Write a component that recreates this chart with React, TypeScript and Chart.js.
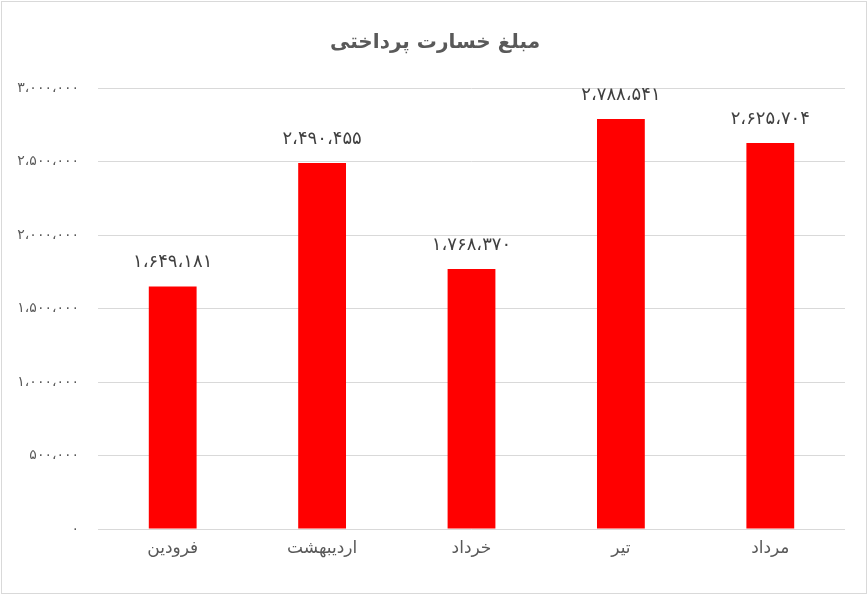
import React, { useEffect, useRef } from "react";
import { Chart, registerables } from "chart.js";

Chart.register(...registerables);

const title = "مبلغ خسارت پرداختی";
const categories = ["فرودین", "اردیبهشت", "خرداد", "تیر", "مرداد"];
const values = [1649181, 2490455, 1768370, 2788541, 2625704];
const yMin = 0;
const yMax = 3000000;
const yStep = 500000;

const faDigits = "۰۱۲۳۴۵۶۷۸۹";
function toFa(n: number): string {
  const s = Math.round(n).toString().replace(/\B(?=(\d{3})+(?!\d))/g, "،");
  return s.replace(/\d/g, (d) => faDigits[Number(d)]);
}

const FONT = "'DejaVu Sans', 'Noto Sans', sans-serif";

const decorPlugin = {
  id: "decor",
  beforeDraw(chart: any) {
    const ctx = chart.ctx;
    ctx.save();
    ctx.fillStyle = "#ffffff";
    ctx.fillRect(0, 0, chart.width, chart.height);
    ctx.strokeStyle = "#d9d9d9";
    ctx.lineWidth = 1;
    ctx.strokeRect(1.5, 1.5, chart.width - 3, chart.height - 3);
    ctx.fillStyle = "#595959";
    ctx.font = `bold 20px ${FONT}`;
    ctx.textAlign = "center";
    ctx.textBaseline = "middle";
    ctx.fillText(title, chart.width / 2 + 1, 43);
    ctx.restore();
  },
  afterDatasetsDraw(chart: any) {
    const ctx = chart.ctx;
    const meta = chart.getDatasetMeta(0);
    ctx.save();
    ctx.fillStyle = "#404040";
    ctx.font = `18px ${FONT}`;
    ctx.textAlign = "center";
    ctx.textBaseline = "middle";
    meta.data.forEach((bar: any, i: number) => {
      ctx.fillText(toFa(values[i]), bar.x, bar.y - 24);
    });
    ctx.restore();
  },
};

export default function App() {
  const ref = useRef<HTMLCanvasElement>(null);
  useEffect(() => {
    document.body.style.margin = "0";
    const chart = new Chart(ref.current!, {
      type: "bar",
      data: {
        labels: categories,
        datasets: [
          {
            data: values,
            backgroundColor: "#ff0000",
            borderWidth: 0,
            categoryPercentage: 1,
            barPercentage: 0.32,
          },
        ],
      },
      options: {
        animation: false,
        responsive: false,
        devicePixelRatio: 1,
        layout: { padding: { top: 88, right: 23, left: 0, bottom: 0 } },
        plugins: { legend: { display: false }, title: { display: false }, tooltip: { enabled: false } },
        scales: {
          x: {
            grid: { display: false, drawTicks: false },
            border: { display: false },
            ticks: { color: "#595959", font: { family: FONT, size: 17 }, padding: 9 },
            afterFit(scale: any) {
              scale.height = 66;
            },
          },
          y: {
            min: yMin,
            max: yMax,
            grid: { color: "#d9d9d9", drawTicks: false },
            border: { display: false },
            ticks: {
              stepSize: yStep,
              color: "#595959",
              font: { family: FONT, size: 14 },
              padding: 19,
              callback: (v: any) => toFa(Number(v)),
            },
            afterFit(scale: any) {
              scale.width = 98;
            },
          },
        },
      },
      plugins: [decorPlugin],
    });
    return () => chart.destroy();
  }, []);
  return <canvas ref={ref} width={868} height={595} style={{ display: "block" }} />;
}
